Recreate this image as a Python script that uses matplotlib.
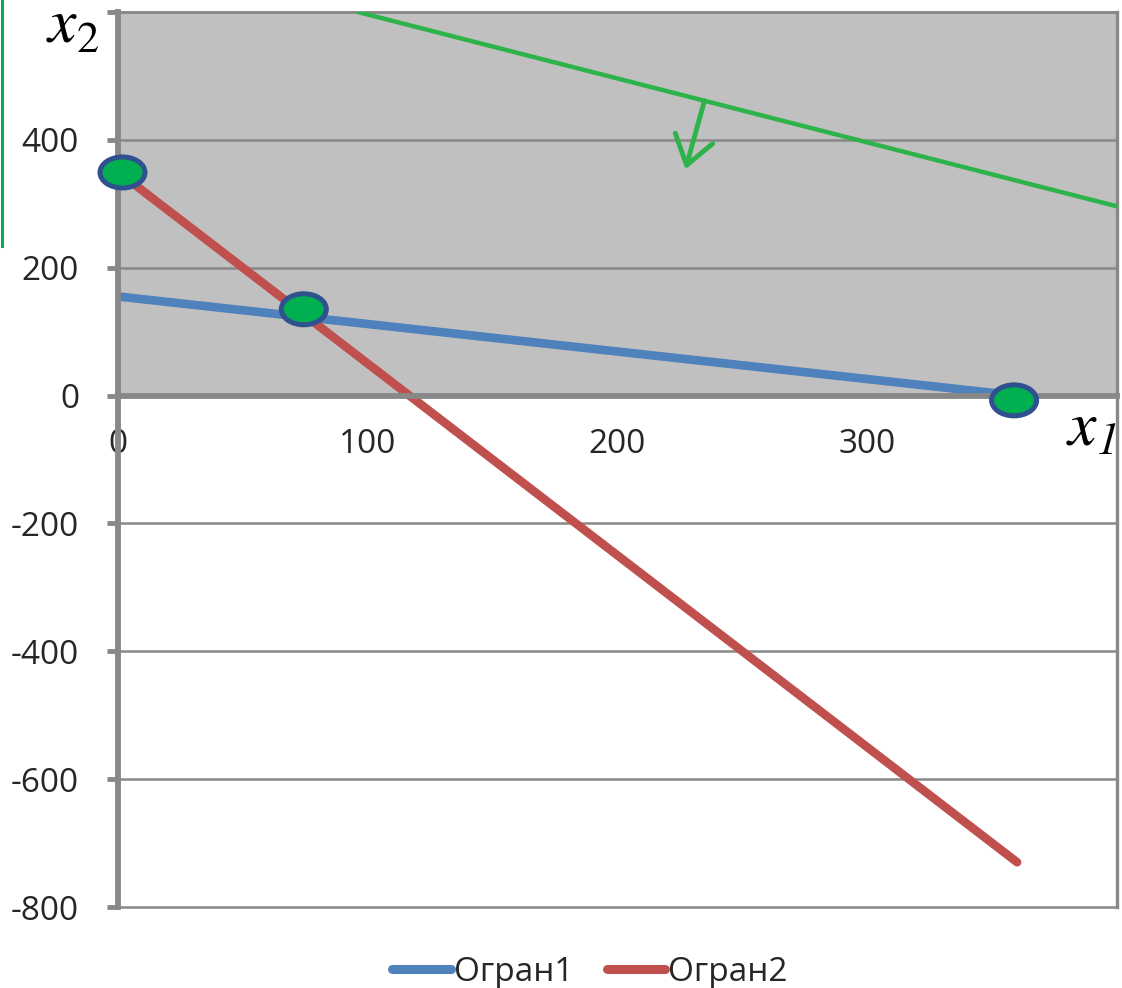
import matplotlib
matplotlib.use("Agg")
import matplotlib.pyplot as plt
from matplotlib.patches import Ellipse
from matplotlib.lines import Line2D

# Constraint lines (x1 -> x2)
c1_x = [0, 360]
c1_y = [155, 0]
c2_x = [0, 360]
c2_y = [350, -730]
# Objective level line
obj_x = [96, 400]
obj_y = [600, 296]
# Direction arrow along the objective gradient
arrow_from = (234.8, 461)
arrow_to = (227.2, 354)
# Corner points of the feasible region
vert_x = [1.8, 74.4, 358.8]
vert_y = [349, 135, -7.5]

series_names = ["Огран1", "Огран2"]
x_ticks = [0, 100, 200, 300]
y_ticks = [-800, -600, -400, -200, 0, 200, 400, 600]
y_tick_labels = ["-800", "-600", "-400", "-200", "0", "200", "400", ""]

W, H = 1122, 988
fig = plt.figure(figsize=(W / 100, H / 100), dpi=100)
ax = fig.add_axes([118 / W, 1 - 907 / H, (1117 - 118) / W, (907 - 12) / H])

font = "Open Sans"
grey = "#888888"
blue = "#4F81BD"
red = "#C0504D"
green = "#2DB34A"
text_col = "#262626"

ax.set_xlim(0, 400)
ax.set_ylim(-800, 600)

# shaded half-plane above the x1 axis
ax.axhspan(0, 600, color="#C0C0C0", zorder=0, lw=0)

for y in y_ticks:
    ax.axhline(y, color=grey, lw=1.8, zorder=1, clip_on=False)

ax.plot(c1_x, c1_y, color=blue, lw=6.2, solid_capstyle="round", zorder=3, label=series_names[0])
ax.plot(c2_x, c2_y, color=red, lw=6.2, solid_capstyle="round", zorder=3, label=series_names[1])
ax.plot(obj_x, obj_y, color=green, lw=3.2, solid_capstyle="round", zorder=3)

ax.annotate("", xy=arrow_to, xytext=arrow_from,
            arrowprops=dict(arrowstyle="->,head_length=1.0,head_width=0.7",
                            color=green, lw=3.5, mutation_scale=20, shrinkA=0, shrinkB=0),
            zorder=4)

# corner markers (ellipses sized in pixels, converted to data units)
px_per_x = 999 / 400
px_per_y = 895 / 1400
ew = 45 / px_per_x
eh = 31 / px_per_y
for vx, vy in zip(vert_x, vert_y):
    ax.add_patch(Ellipse((vx, vy), ew, eh, facecolor="#00B050", edgecolor="#2F528F",
                         lw=3.6, zorder=6, clip_on=False))

for s in ["top", "right", "left", "bottom"]:
    ax.spines[s].set_color(grey)
ax.spines["bottom"].set_position(("data", 0))
ax.spines["bottom"].set_linewidth(4.2)
ax.spines["left"].set_linewidth(4.2)
ax.spines["top"].set_linewidth(1.8)
ax.spines["right"].set_linewidth(2.4)
ax.spines["left"].set_zorder(5)
ax.spines["bottom"].set_zorder(5)

ax.set_yticks(y_ticks)
ax.set_yticklabels(y_tick_labels)
ax.set_xticks(x_ticks)
ax.set_xticklabels([str(v) for v in x_ticks])
ax.tick_params(axis="y", length=8, width=3.5, color=grey, pad=20,
               labelsize=24, labelcolor=text_col)
ax.tick_params(axis="x", length=0, pad=23, labelsize=24, labelcolor=text_col)
for lab in ax.get_xticklabels() + ax.get_yticklabels():
    lab.set_fontfamily(font)

# axis names: italic serif x with subscript
serif = "STIXGeneral"
fig.text(48 / W, 1 - 42 / H, "x", family=serif, style="italic", fontsize=46,
         ha="left", va="baseline")
fig.text(77 / W, 1 - 52 / H, "2", family=serif, fontsize=32, ha="left", va="baseline")
fig.text(1068 / W, 1 - 444 / H, "x", family=serif, style="italic", fontsize=46,
         ha="left", va="baseline")
fig.text(1097 / W, 1 - 454 / H, "1", family=serif, style="italic", fontsize=32,
         ha="left", va="baseline")

handles = [Line2D([], [], color=blue, lw=6.5, solid_capstyle="round"),
           Line2D([], [], color=red, lw=6.5, solid_capstyle="round")]
fig.legend(handles, series_names, loc="center", bbox_to_anchor=(590 / W, 1 - 972 / H),
           ncol=2, frameon=False, handlelength=1.75, handletextpad=0.1, columnspacing=1.0,
           prop={"family": font, "size": 24}, labelcolor=text_col)

# green frame edge on the left
fig.add_artist(Line2D([2 / W, 2 / W], [1, 1 - 246 / H], color="#00B050", lw=2.2,
                      transform=fig.transFigure))

fig.savefig("out.png", dpi=100, facecolor="white")
